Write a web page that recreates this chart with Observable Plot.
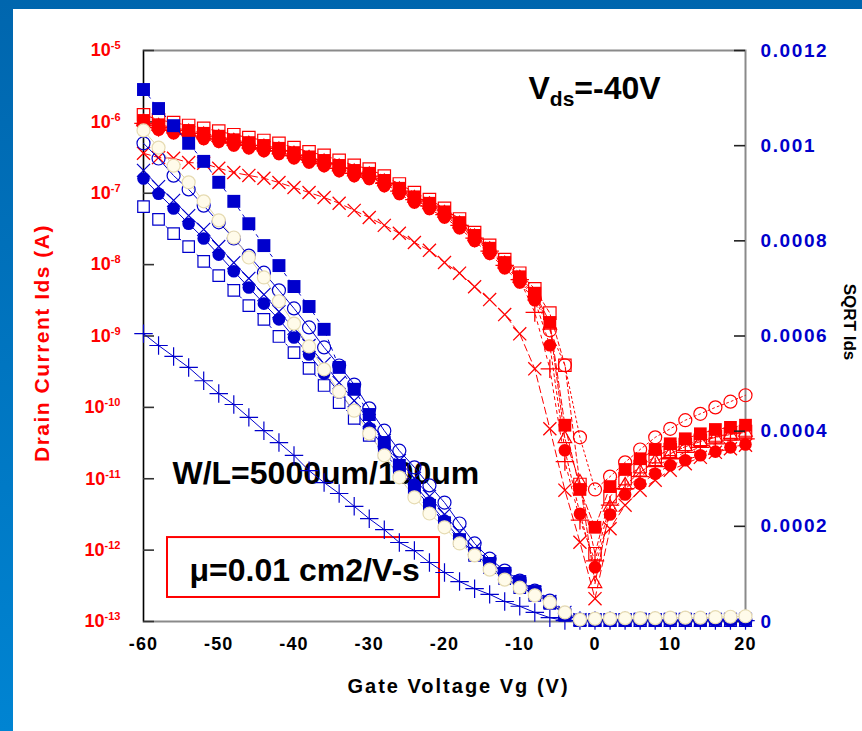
<!DOCTYPE html>
<html><head><meta charset="utf-8">
<script src="https://cdn.jsdelivr.net/npm/d3@7"></script>
<script src="https://cdn.jsdelivr.net/npm/@observablehq/plot@0.6"></script>
<style>
html,body{margin:0;padding:0;}
body{width:862px;height:731px;overflow:hidden;position:relative;background:linear-gradient(to bottom,#0066ae,#0084d2);font-family:"Liberation Sans",Arial,sans-serif;}
#panel{position:absolute;left:13px;top:9px;right:0;bottom:0;background:#fff;}
#chart{position:absolute;left:0;top:0;width:862px;height:731px;}
#chart svg{position:absolute;left:0;top:0;overflow:visible;}
</style></head><body><div id="panel"></div><div id="chart"></div>
<script>
// Gate voltage (V)
const vg = [-60,-58,-56,-54,-52,-50,-48,-46,-44,-42,-40,-38,-36,-34,-32,-30,-28,-26,-24,-22,-20,-18,-16,-14,-12,-10,-8,-6,-4,-2,0,2,4,6,8,10,12,14,16,18,20];

// Drain current, log10(Ids / A), left axis (red)
const redFilledSquareLog = [-5.98,-6.04,-6.08,-6.12,-6.16,-6.20,-6.25,-6.29,-6.33,-6.37,-6.43,-6.49,-6.54,-6.61,-6.68,-6.72,-6.82,-6.93,-7.05,-7.14,-7.26,-7.41,-7.59,-7.77,-7.97,-8.17,-8.40,-8.81,-10.25,-11.15,-11.68,-11.11,-10.87,-10.72,-10.59,-10.51,-10.44,-10.37,-10.31,-10.28,-10.25];
const redOpenSquareLog = [-5.90,-5.97,-6.01,-6.05,-6.09,-6.13,-6.18,-6.22,-6.26,-6.30,-6.36,-6.42,-6.47,-6.54,-6.61,-6.66,-6.76,-6.87,-6.99,-7.09,-7.21,-7.36,-7.55,-7.73,-7.93,-8.12,-8.34,-8.68,-9.41,-11.08,-12.05,-11.25,-11.00,-10.83,-10.69,-10.59,-10.52,-10.46,-10.41,-10.37,-10.34];
const redFilledCircleLog = [-6.05,-6.11,-6.16,-6.20,-6.24,-6.28,-6.33,-6.37,-6.41,-6.45,-6.51,-6.57,-6.62,-6.69,-6.76,-6.80,-6.90,-7.01,-7.13,-7.22,-7.34,-7.49,-7.67,-7.85,-8.05,-8.25,-8.50,-9.13,-10.60,-11.49,-12.24,-11.50,-11.22,-11.07,-10.93,-10.81,-10.74,-10.67,-10.62,-10.56,-10.52];
const redOpenCircleLog = [-6.03,-6.09,-6.13,-6.17,-6.21,-6.25,-6.30,-6.34,-6.38,-6.42,-6.48,-6.54,-6.59,-6.66,-6.73,-6.77,-6.87,-6.98,-7.10,-7.19,-7.31,-7.46,-7.64,-7.82,-8.02,-8.22,-8.47,-8.92,-9.41,-10.42,-11.15,-10.97,-10.77,-10.59,-10.42,-10.30,-10.18,-10.09,-10.00,-9.92,-9.83];
const redTriangleLog = [-6.00,-6.06,-6.10,-6.14,-6.18,-6.22,-6.27,-6.31,-6.35,-6.39,-6.45,-6.51,-6.56,-6.63,-6.70,-6.74,-6.84,-6.95,-7.07,-7.16,-7.28,-7.43,-7.61,-7.79,-7.99,-8.19,-8.44,-8.85,-10.44,-11.05,-12.47,-11.40,-11.09,-10.91,-10.76,-10.65,-10.55,-10.48,-10.42,-10.38,-10.35];
const redCrossLog = [-6.44,-6.50,-6.51,-6.57,-6.58,-6.65,-6.71,-6.75,-6.79,-6.85,-6.92,-6.99,-7.06,-7.14,-7.24,-7.34,-7.45,-7.56,-7.69,-7.80,-7.97,-8.12,-8.31,-8.49,-8.70,-8.97,-9.46,-10.30,-11.16,-11.89,-12.68,-11.70,-11.37,-11.16,-11.02,-10.88,-10.79,-10.70,-10.63,-10.58,-10.53];
const redPlusLog = [-6.02,-6.08,-6.12,-6.16,-6.20,-6.24,-6.29,-6.33,-6.37,-6.41,-6.47,-6.53,-6.58,-6.65,-6.72,-6.76,-6.86,-6.97,-7.09,-7.18,-7.30,-7.45,-7.63,-7.81,-8.01,-8.21,-8.67,-9.46,-10.76,-11.58,-12.15,-11.37,-11.14,-10.97,-10.83,-10.72,-10.63,-10.56,-10.51,-10.46,-10.44];

// SQRT Ids (A^0.5), right axis (blue)
const blueFilledSquare = [11.18e-4,10.78e-4,10.42e-4,10.05e-4,9.67e-4,9.23e-4,8.83e-4,8.36e-4,7.90e-4,7.48e-4,7.04e-4,6.62e-4,6.14e-4,5.34e-4,4.88e-4,4.35e-4,3.76e-4,3.28e-4,2.80e-4,2.44e-4,2.06e-4,1.72e-4,1.43e-4,1.22e-4,1.01e-4,0.84e-4,0.63e-4,0.40e-4,0.13e-4,0.03e-4,0.04e-4,0.04e-4,0.04e-4,0.05e-4,0.04e-4,0.05e-4,0.05e-4,0.04e-4,0.05e-4,0.05e-4,0.05e-4];
const blueCreamCircle = [10.32e-4,9.96e-4,9.58e-4,9.23e-4,8.83e-4,8.43e-4,8.07e-4,7.65e-4,7.23e-4,6.73e-4,6.26e-4,5.78e-4,5.30e-4,4.83e-4,4.43e-4,3.95e-4,3.49e-4,3.03e-4,2.61e-4,2.27e-4,1.98e-4,1.64e-4,1.39e-4,1.09e-4,0.88e-4,0.71e-4,0.55e-4,0.40e-4,0.19e-4,0.04e-4,0.06e-4,0.06e-4,0.07e-4,0.07e-4,0.07e-4,0.08e-4,0.08e-4,0.08e-4,0.09e-4,0.10e-4,0.11e-4];
const blueOpenCircle = [10.05e-4,9.73e-4,9.37e-4,9.08e-4,8.74e-4,8.39e-4,8.05e-4,7.69e-4,7.33e-4,6.96e-4,6.58e-4,6.18e-4,5.76e-4,5.38e-4,4.98e-4,4.48e-4,4.01e-4,3.59e-4,3.24e-4,2.86e-4,2.50e-4,2.06e-4,1.64e-4,1.32e-4,1.07e-4,0.86e-4,0.65e-4,0.44e-4,0.17e-4,0.04e-4,0.03e-4,0.03e-4,0.03e-4,0.03e-4,0.03e-4,0.03e-4,0.03e-4,0.03e-4,0.03e-4,0.03e-4,0.03e-4];
const blueFilledCircle = [9.31e-4,8.99e-4,8.68e-4,8.36e-4,8.05e-4,7.71e-4,7.36e-4,7.02e-4,6.68e-4,6.35e-4,5.97e-4,5.61e-4,5.21e-4,4.81e-4,4.43e-4,4.06e-4,3.66e-4,3.26e-4,2.88e-4,2.50e-4,2.12e-4,1.74e-4,1.43e-4,1.16e-4,0.92e-4,0.74e-4,0.57e-4,0.40e-4,0.15e-4,0.02e-4,0.02e-4,0.02e-4,0.02e-4,0.02e-4,0.02e-4,0.02e-4,0.02e-4,0.02e-4,0.02e-4,0.02e-4,0.02e-4];
const blueOpenSquare = [8.72e-4,8.45e-4,8.15e-4,7.88e-4,7.57e-4,7.27e-4,6.96e-4,6.64e-4,6.35e-4,5.99e-4,5.65e-4,5.32e-4,4.96e-4,4.60e-4,4.27e-4,3.91e-4,3.55e-4,3.17e-4,2.80e-4,2.44e-4,2.08e-4,1.70e-4,1.39e-4,1.13e-4,0.90e-4,0.71e-4,0.55e-4,0.38e-4,0.15e-4,0.02e-4,0.02e-4,0.02e-4,0.02e-4,0.02e-4,0.02e-4,0.02e-4,0.02e-4,0.02e-4,0.02e-4,0.02e-4,0.02e-4];
const blueCross = [9.48e-4,9.14e-4,8.85e-4,8.53e-4,8.24e-4,7.88e-4,7.54e-4,7.21e-4,6.87e-4,6.51e-4,6.16e-4,5.80e-4,5.42e-4,5.02e-4,4.64e-4,4.22e-4,3.80e-4,3.38e-4,3.01e-4,2.63e-4,2.25e-4,1.87e-4,1.53e-4,1.26e-4,1.01e-4,0.80e-4,0.61e-4,0.42e-4,0.19e-4,0.04e-4,0.03e-4,0.03e-4,0.03e-4,0.03e-4,0.03e-4,0.03e-4,0.03e-4,0.03e-4,0.03e-4,0.03e-4,0.03e-4];
const bluePlus = [6.05e-4,5.80e-4,5.57e-4,5.34e-4,5.06e-4,4.79e-4,4.56e-4,4.29e-4,4.01e-4,3.76e-4,3.49e-4,3.17e-4,2.92e-4,2.69e-4,2.42e-4,2.16e-4,1.93e-4,1.66e-4,1.49e-4,1.24e-4,1.03e-4,0.84e-4,0.69e-4,0.57e-4,0.42e-4,0.32e-4,0.19e-4,0.08e-4,0.02e-4,0.02e-4,0.02e-4,0.02e-4,0.02e-4,0.02e-4,0.02e-4,0.02e-4,0.02e-4,0.02e-4,0.02e-4,0.02e-4,0.02e-4];

// Tick values
const xTicks = [-60,-50,-40,-30,-20,-10,0,10,20];
const leftTicks = [1e-13,1e-12,1e-11,1e-10,1e-9,1e-8,1e-7,1e-6,1e-5];
const rightTicks = [0,0.0002,0.0004,0.0006,0.0008,0.001,0.0012];

// Annotations (positioned in data coordinates of the left axis)
const notes = [
  {text:"V|ds|=-40V", vg:-8.84, ids:2.95e-6},
  {text:"W/L=5000um/100um", vg:-56.15, ids:1.19e-11},
  {text:"μ=0.01 cm2/V-s", vg:-53.89, ids:5.21e-13}
];
const muBox = [{vg1:-56.81, vg2:-20.66, ids1:2.17e-13, ids2:1.5e-12}];

const RED = "#ff0000", BLUE = "#0000cc", FONT = "Liberation Sans, Arial, sans-serif";
const W = 862, H = 731, M = {top:50, right:117, bottom:110, left:143};
const TICK = 11, FRAME_W = W - M.left - M.right;

const rows = (arr, f) => vg.map((x, i) => ({vg: x, y: f(arr[i])}));

const redDefs = [
  {vals: redCrossLog, symbol:"times", fill:"none", stroke:RED, r:6, sw:1.3, dash:"7,4"},
  {vals: redPlusLog, symbol:"plus", fill:"none", stroke:RED, r:6, sw:1.3, dash:"3,4"},
  {vals: redTriangleLog, symbol:"triangle", fill:"none", stroke:RED, r:5, sw:1.2, dash:"5,2"},
  {vals: redOpenSquareLog, symbol:"square", fill:"none", stroke:RED, r:7, sw:1.2, dash:"4,3"},
  {vals: redOpenCircleLog, symbol:"circle", fill:"none", stroke:RED, r:6.5, sw:1.2, dash:"2,3"},
  {vals: redFilledCircleLog, symbol:"circle", fill:RED, stroke:"none", r:6.3, sw:0, dash:"3,3"},
  {vals: redFilledSquareLog, symbol:"square", fill:RED, stroke:"none", r:7.2, sw:0, dash:"6,3"}
];
const blueDefs = [
  {vals: bluePlus, symbol:"plus", fill:"none", stroke:BLUE, r:6, sw:1.2, line:BLUE, dash:null},
  {vals: blueCross, symbol:"times", fill:"none", stroke:BLUE, r:6, sw:1.2, line:BLUE, dash:null},
  {vals: blueOpenSquare, symbol:"square", fill:"white", stroke:BLUE, r:6.5, sw:1.2, line:BLUE, dash:"2,4"},
  {vals: blueFilledCircle, symbol:"circle", fill:BLUE, stroke:"none", r:6.3, sw:0, line:BLUE, dash:null},
  {vals: blueOpenCircle, symbol:"circle", fill:"none", stroke:BLUE, r:6.5, sw:1.2, line:BLUE, dash:null},
  {vals: blueFilledSquare, symbol:"square", fill:BLUE, stroke:"none", r:7.3, sw:0, line:BLUE, dash:"3,5"},
  {vals: blueCreamCircle, symbol:"circle", fill:"#fffbea", stroke:"#e6dbb2", r:6.5, sw:1.2, line:"#e0d4a4", dash:null}
];

const redData = redDefs.map(d => rows(d.vals, v => Math.pow(10, v)));
const blueData = blueDefs.map(d => rows(d.vals, v => v));

const common = {
  width: W, height: H,
  marginTop: M.top, marginRight: M.right, marginBottom: M.bottom, marginLeft: M.left,
  style: {background: "transparent", fontFamily: FONT, overflow: "visible"}
};

const redPlot = Plot.plot({
  ...common,
  x: {domain: [-60, 20]},
  y: {type: "log", domain: [1e-13, 1e-5]},
  marks: [
    Plot.rect(muBox, {x1:"vg1", x2:"vg2", y1:"ids1", y2:"ids2", fill:"white", stroke:RED, strokeWidth:2}),
    Plot.frame({stroke:"#8a8a8a", strokeWidth:2}),
    Plot.ruleX([-60], {stroke:"#000", strokeWidth:1.2}),
    Plot.tickY(leftTicks, {y: d => d, insetRight: FRAME_W - TICK, stroke:"#333", strokeWidth:1.6}),
    Plot.axisY({ticks: leftTicks, tickSize: 0, tickPadding: 23, tickFormat: d => "10^" + Math.round(Math.log10(d)), color: RED, fontSize: 18, fontWeight: "bold", label: null}),
    Plot.axisX({ticks: xTicks, tickSize: 0, tickPadding: 16, tickFormat: d => String(d), color:"#000", fontSize: 18, fontWeight: "bold", label: null}),
    Plot.text(["Gate Voltage Vg (V)"], {text: d => d, frameAnchor: "bottom", textAnchor: "middle", dx: 14, dy: 71, fontSize: 20, fontWeight: "bold", fill: "#000"}),
    Plot.text(["Drain Current Ids (A)"], {text: d => d, frameAnchor: "left", textAnchor: "middle", rotate: -90, dx: -101, dy: 7, fontSize: 21, fontWeight: "bold", fill: RED}),
    Plot.text(["SQRT Ids"], {text: d => d, frameAnchor: "right", textAnchor: "middle", rotate: 90, dx: 104, dy: -14, fontSize: 17, fontWeight: "bold", fill: "#000"}),
    Plot.text(notes, {x:"vg", y:"ids", text:"text", textAnchor:"start", fontSize: 32, fontWeight:"bold", fill:"#000"}),
    ...redDefs.map((d, i) => Plot.line(redData[i], {x:"vg", y:"y", stroke:RED, strokeWidth:1, strokeDasharray:d.dash})),
    ...redDefs.map((d, i) => Plot.dot(redData[i], {x:"vg", y:"y", symbol:d.symbol, r:d.r, fill:d.fill, stroke:d.stroke, strokeWidth:d.sw}))
  ]
});

const bluePlot = Plot.plot({
  ...common,
  x: {domain: [-60, 20], axis: null},
  y: {domain: [0, 0.0012]},
  marks: [
    Plot.tickY(rightTicks, {y: d => d, insetLeft: FRAME_W - TICK, stroke:"#222", strokeWidth:1.6}),
    Plot.axisY({anchor:"right", ticks: rightTicks, tickSize: 0, tickPadding: 15, tickFormat: d => String(d), color: BLUE, fontSize: 19, fontWeight: "bold", label: null}),
    ...blueDefs.map((d, i) => Plot.line(blueData[i], {x:"vg", y:"y", stroke:d.line, strokeWidth:1, strokeDasharray:d.dash})),
    ...blueDefs.map((d, i) => Plot.dot(blueData[i], {x:"vg", y:"y", symbol:d.symbol, r:d.r, fill:d.fill, stroke:d.stroke, strokeWidth:d.sw}))
  ]
});

const spacing = {"Gate Voltage Vg (V)": 2, "Drain Current Ids (A)": 1.5};
function post(svg, labelSpacing) {
  svg.querySelectorAll("text").forEach(t => {
    const s = t.textContent;
    const m = s.match(/^10\^(-?\d+)$/);
    if (m) { t.innerHTML = `10<tspan dy="-7" font-size="11">${m[1]}</tspan>`; return; }
    if (s === "V|ds|=-40V") { t.innerHTML = `V<tspan dy="7" font-size="21">ds</tspan><tspan dy="-7">=-40V</tspan>`; return; }
    if (spacing[s]) { t.setAttribute("letter-spacing", spacing[s]); return; }
    if (labelSpacing && /^-?[\d.]+$/.test(s)) t.setAttribute("letter-spacing", labelSpacing);
  });
}
post(redPlot, 1.2); post(bluePlot, 1.6);
const chart = document.getElementById("chart");
chart.appendChild(redPlot);
chart.appendChild(bluePlot);
</script></body></html>
